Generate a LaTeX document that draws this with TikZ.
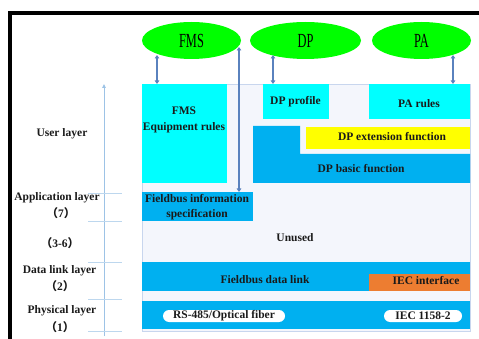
\documentclass[tikz,border=0pt]{standalone}
\usepackage{fontspec}
\setmainfont{Liberation Serif}
\newfontfamily\cjk{Noto Sans CJK SC}
\usetikzlibrary{shapes.geometric,arrows.meta}
\definecolor{boxcyan}{HTML}{00FFFF}
\definecolor{boxblue}{HTML}{00B0F0}
\definecolor{boxyellow}{HTML}{FFFF00}
\definecolor{boxorange}{HTML}{ED7D31}
\definecolor{ellgreen}{HTML}{00FF00}
\definecolor{bgpale}{HTML}{F4F6FC}
\definecolor{bgedge}{HTML}{C8D6EE}
\definecolor{arrblue}{HTML}{5A82BE}
\definecolor{axisblue}{HTML}{9DC3E6}
\definecolor{tickblue}{HTML}{BDD7EE}
\definecolor{txt}{HTML}{1A1A1A}
\newcommand{\fp}[1]{{\cjk （}#1{\cjk ）}}
\begin{document}
\begin{tikzpicture}[x=1pt,y=-1pt,
  lbl/.style={font=\fontsize{11.5}{15.5}\selectfont\bfseries, text=txt, align=center, inner sep=0pt},
  ell/.style={ellipse, fill=ellgreen, minimum height=37pt, inner sep=0pt},
  box/.style={draw=none, inner sep=0pt, anchor=north west},
  dbl/.style={{Triangle[length=3.5pt,width=4.5pt]}-{Triangle[length=3.5pt,width=4.5pt]}, draw=arrblue, line width=1.8pt},
  pill/.style={lbl, fill=white, rounded corners=6pt, minimum height=12pt},
  tick/.style={draw=tickblue, line width=0.8pt}
]
\useasboundingbox (0,0) rectangle (479,339);
% frame
\draw[line width=4pt, miter limit=10] (9.5,339) -- (9.5,13) -- (479,13);
% background of stack
\node[box, fill=bgpale, draw=bgedge, line width=0.6pt, minimum width=328pt, minimum height=247pt] (stack) at (142,84) {};
% boxes
\node[box, fill=boxcyan, minimum width=85pt, minimum height=99pt] (fmsbox) at (142,84) {};
\node[box, fill=boxblue, minimum width=111pt, minimum height=29pt] (fisbox) at (142,192) {};
\node[box, fill=boxcyan, minimum width=66pt, minimum height=35pt] (dpprbox) at (263,84) {};
\node[box, fill=boxcyan, minimum width=101pt, minimum height=35pt] (parbox) at (369,84) {};
\fill[boxblue] (253,126) -- (300,126) -- (300,154) -- (470,154) -- (470,183) -- (253,183) -- cycle;
\node[box, fill=boxyellow, minimum width=164pt, minimum height=22pt] (dpexbox) at (306,127) {};
\node[box, fill=boxblue, minimum width=328pt, minimum height=29pt] (dlbox) at (142,262) {};
\node[box, fill=boxorange, minimum width=101pt, minimum height=17pt] (iecbox) at (369,274) {};
\node[box, fill=boxblue, minimum width=328pt, minimum height=28pt] (phbox) at (142,301) {};
% texts in boxes
\node[lbl] (fmstext) at (184,120) {FMS\\Equipment rules};
\node[lbl] (fistext) at (197,207) {Fieldbus information\\specification};
\node[lbl] (dpprtext) at (295.5,102) {DP profile};
\node[lbl] (partext) at (419,104) {PA rules};
\node[lbl] (dpextext) at (392,137) {DP extension function};
\node[lbl] (dpbtext) at (361,169) {DP basic function};
\node[lbl] (unused) at (295,238) {Unused};
\node[lbl] (dltext) at (265,280) {Fieldbus data link};
\node[lbl] (iectext) at (426,281) {IEC interface};
\node[pill, minimum width=122pt] (rs) at (224,316) {RS-485/Optical fiber};
\node[pill, minimum width=78pt] (iec) at (423,316) {IEC 1158-2};
% ellipses
\node[ell, minimum width=99pt] (fms) at (191.5,40.5) {\scalebox{0.62}[1]{\fontsize{20}{20}\selectfont FMS}};
\node[ell, minimum width=111pt] (dp) at (305.5,40.5) {\scalebox{0.62}[1]{\fontsize{20}{20}\selectfont DP}};
\node[ell, minimum width=99pt] (pa) at (421.5,40.5) {\scalebox{0.62}[1]{\fontsize{20}{20}\selectfont PA}};
% arrows
\coordinate (fmsA) at (157,55);
\coordinate (dpA) at (273,55);
\coordinate (paA) at (453,55);
\coordinate (fisA) at (239,47);
\draw[dbl] (fmsA) -- (fmsA |- fmsbox.north);
\draw[dbl] (dpA) -- (dpA |- dpprbox.north);
\draw[dbl] (paA) -- (paA |- parbox.north);
\draw[dbl] (fisA) -- (fisA |- fisbox.north);
% left axis
\coordinate (axb) at (104,336);
\coordinate (axt) at (104,84);
\draw[-{Triangle[length=4pt,width=3.5pt]}, draw=axisblue, line width=1pt] (axb) -- (axt);
\foreach \yy/\nm in {193/t1,221/t2,262/t3,299/t4,331/t5}{
  \coordinate (\nm a) at (88,\yy); \coordinate (\nm b) at (122,\yy);
  \draw[tick] (\nm a) -- (\nm b);
}
% left labels
\node[lbl] (user) at (62,134) {User layer};
\node[lbl] (app) at (57,198) {Application layer};
\node[lbl] (app7) at (61,213) {\fp{7}};
\node[lbl] (l36) at (60,243) {\fp{3-6}};
\node[lbl] (dll) at (59.5,271) {Data link layer};
\node[lbl] (dll2) at (60,286) {\fp{2}};
\node[lbl] (phl) at (62,311) {Physical layer};
\node[lbl] (phl1) at (60,327) {\fp{1}};
\end{tikzpicture}
\end{document}
